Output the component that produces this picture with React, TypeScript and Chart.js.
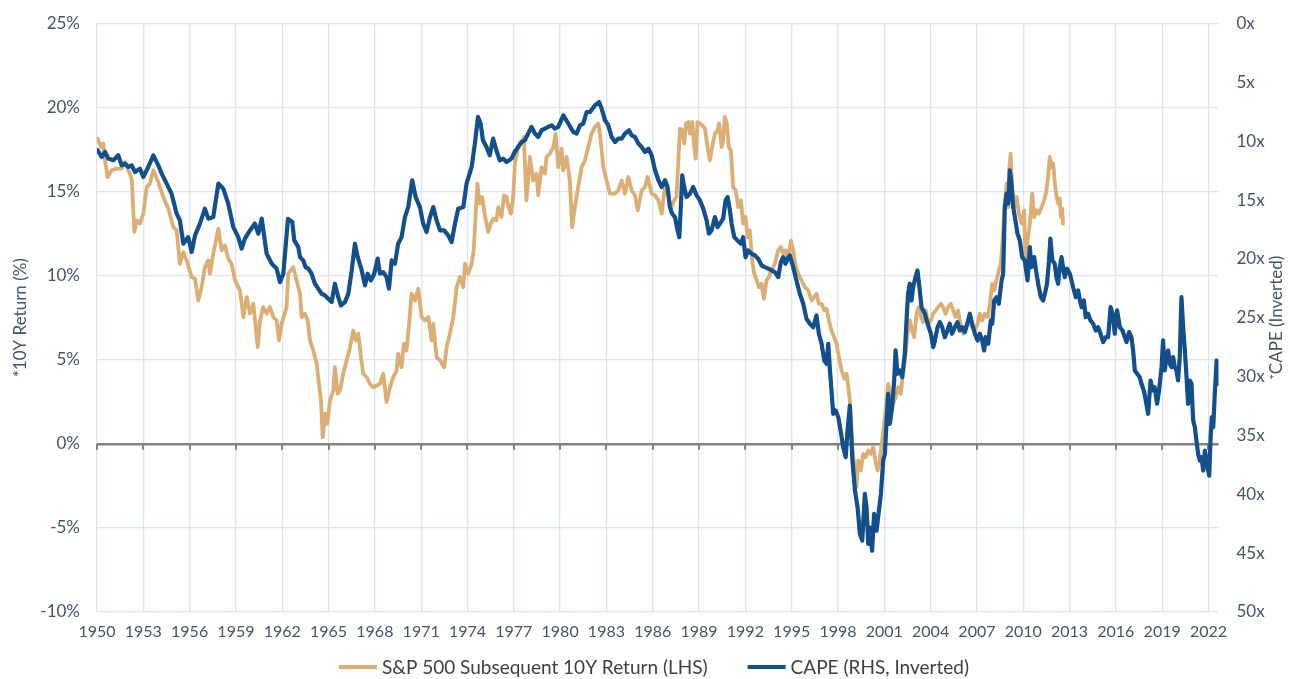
import React, { useEffect, useRef } from 'react';
import { Chart, registerables } from 'chart.js';

Chart.register(...registerables);

// ---------- Data ----------
const seriesLabels = ['S&P 500 Subsequent 10Y Return (LHS)', 'CAPE (RHS, Inverted)'];

const returnYears = [
  1950.04, 1950.26, 1950.41, 1950.52, 1950.69, 1950.95, 1951.27, 1951.6, 1951.81, 1952.03, 1952.25, 1952.42, 1952.57, 1952.78,
  1953.0, 1953.22, 1953.43, 1953.65, 1953.97, 1954.29, 1954.62, 1954.94, 1955.16, 1955.37, 1955.59, 1955.81,
  1956.13, 1956.35, 1956.56, 1956.78, 1956.99, 1957.21, 1957.32, 1957.53, 1957.75, 1957.86, 1958.07, 1958.29, 1958.5, 1958.72, 1958.94,
  1959.26, 1959.48, 1959.7, 1959.91, 1960.13, 1960.41, 1960.56, 1960.77, 1960.99, 1961.2, 1961.42, 1961.64, 1961.79, 1961.96,
  1962.28, 1962.39, 1962.71, 1962.93, 1963.15, 1963.26, 1963.47, 1963.65, 1963.8, 1964.01, 1964.23, 1964.33, 1964.51, 1964.62, 1964.77, 1964.92,
  1965.09, 1965.31, 1965.41, 1965.59, 1965.74, 1965.95, 1966.17, 1966.39, 1966.6, 1966.76, 1966.93, 1967.1, 1967.25, 1967.47, 1967.68, 1967.9,
  1968.12, 1968.33, 1968.54, 1968.76, 1968.98, 1969.19, 1969.41, 1969.51, 1969.73, 1969.88, 1970.05, 1970.2, 1970.38, 1970.6, 1970.81,
  1971.03, 1971.24, 1971.46, 1971.68, 1971.78, 1972.0, 1972.22, 1972.49, 1972.65, 1972.86, 1973.08, 1973.3, 1973.51, 1973.73, 1973.84,
  1974.05, 1974.27, 1974.4, 1974.55, 1974.64, 1974.79, 1974.95, 1975.11, 1975.34, 1975.51, 1975.67, 1975.88, 1975.99, 1976.2, 1976.37, 1976.53, 1976.63, 1976.81, 1976.96,
  1977.07, 1977.28, 1977.5, 1977.65, 1977.82, 1978.04, 1978.25, 1978.47, 1978.58, 1978.8, 1979.02, 1979.12, 1979.34, 1979.56, 1979.71, 1979.88,
  1980.1, 1980.2, 1980.42, 1980.63, 1980.78, 1980.96, 1981.17, 1981.39, 1981.61, 1981.82, 1982.04, 1982.26, 1982.47, 1982.58, 1982.8,
  1983.01, 1983.23, 1983.55, 1983.77, 1983.99, 1984.2, 1984.42, 1984.63, 1984.85, 1985.03, 1985.28, 1985.5, 1985.67, 1985.93,
  1986.15, 1986.37, 1986.58, 1986.8, 1986.96, 1987.11, 1987.22, 1987.39, 1987.54, 1987.65, 1987.76, 1987.91, 1988.04, 1988.15, 1988.3, 1988.41, 1988.56, 1988.69, 1988.78, 1988.9,
  1989.05, 1989.2, 1989.38, 1989.55, 1989.7, 1989.85, 1990.03, 1990.2, 1990.3, 1990.46, 1990.56, 1990.67, 1990.8, 1990.93, 1991.06, 1991.21, 1991.37, 1991.54, 1991.71, 1991.86,
  1992.01, 1992.14, 1992.29, 1992.44, 1992.57, 1992.73, 1992.88, 1993.05, 1993.2, 1993.37, 1993.52, 1993.7, 1993.91, 1994.13, 1994.3, 1994.45, 1994.6, 1994.77, 1994.95,
  1995.1, 1995.25, 1995.42, 1995.64, 1995.85, 1996.07, 1996.29, 1996.46, 1996.61, 1996.76, 1996.94, 1997.11, 1997.26, 1997.41, 1997.58, 1997.75, 1997.91,
  1998.06, 1998.24, 1998.41, 1998.56, 1998.67, 1998.77, 1998.95, 1999.1, 1999.2, 1999.31, 1999.48, 1999.63, 1999.79, 1999.96, 2000.13, 2000.28, 2000.43, 2000.56, 2000.71, 2000.86, 2000.99,
  2001.15, 2001.25, 2001.43, 2001.57, 2001.73, 2001.9, 2002.07, 2002.16, 2002.33, 2002.51, 2002.66, 2002.81, 2002.94, 2003.09, 2003.24, 2003.37, 2003.52, 2003.68, 2003.85,
  2004.02, 2004.17, 2004.33, 2004.49, 2004.66, 2004.81, 2004.97, 2005.14, 2005.31, 2005.46, 2005.62, 2005.78, 2005.96, 2006.11, 2006.22, 2006.39, 2006.54, 2006.69, 2006.87,
  2007.04, 2007.19, 2007.34, 2007.51, 2007.69, 2007.84, 2007.99, 2008.12, 2008.27, 2008.42, 2008.55, 2008.66, 2008.77, 2008.92, 2009.03, 2009.09, 2009.18, 2009.29, 2009.42, 2009.57, 2009.72, 2009.9,
  2010.06, 2010.15, 2010.28, 2010.43, 2010.58, 2010.71, 2010.86, 2011.01, 2011.19, 2011.36, 2011.51, 2011.61, 2011.72, 2011.83, 2011.94, 2012.05, 2012.16, 2012.26, 2012.37, 2012.44, 2012.52, 2012.58,
];

const returnValues = [
  18.15, 17.65, 17.86, 16.86, 15.87, 16.27, 16.37, 16.37, 16.76, 16.27, 15.77, 12.6, 13.29, 13.1,
  13.69, 15.27, 15.48, 16.27, 15.57, 14.68, 13.99, 12.89, 12.7, 10.71, 11.4, 10.91,
  9.92, 9.82, 8.53, 9.32, 10.51, 10.91, 10.12, 11.31, 12.3, 12.8, 11.51, 11.8, 11.01, 10.71, 9.72,
  9.13, 7.54, 8.73, 7.74, 8.33, 5.75, 7.34, 8.13, 7.74, 8.13, 7.54, 7.34, 6.15, 7.14,
  8.13, 10.12, 10.51, 9.72, 8.93, 7.54, 7.74, 7.34, 6.15, 5.55, 4.76, 3.96, 2.58, 0.39, 1.79, 1.19,
  2.58, 3.17, 4.56, 2.98, 3.17, 4.17, 4.96, 5.75, 6.74, 6.15, 6.55, 5.15, 4.17, 3.96, 3.57, 3.37,
  3.47, 3.57, 4.17, 2.48, 3.37, 3.96, 4.36, 5.36, 4.56, 5.95, 5.55, 6.94, 8.93, 8.53, 9.23,
  7.54, 7.34, 7.54, 6.15, 7.14, 5.15, 4.96, 4.56, 5.75, 6.55, 7.54, 9.32, 9.92, 9.32, 10.71,
  10.12, 10.71, 11.5, 14.0, 15.48, 14.29, 14.68, 13.69, 12.6, 13.1, 13.39, 13.29, 14.08, 13.49, 14.78, 14.68, 14.18, 13.69, 14.68,
  16.67, 17.65, 17.95, 18.25, 14.48, 17.06, 15.67, 16.07, 14.78, 16.46, 16.07, 17.06, 17.26, 17.65, 18.45, 16.46,
  17.56, 16.27, 17.06, 15.67, 12.89, 14.08, 15.27, 16.46, 16.86, 17.65, 18.45, 18.85, 19.05, 18.45, 16.46,
  15.67, 14.88, 14.88, 15.08, 15.67, 14.88, 15.87, 15.08, 14.78, 13.89, 15.08, 15.27, 15.87, 14.88,
  14.78, 14.48, 13.69, 15.4, 15.08, 14.18, 14.08, 14.48, 14.68, 16.67, 18.75, 18.65, 17.86, 19.05, 19.14, 18.45, 19.14, 17.65, 16.96, 19.14,
  19.05, 18.95, 18.75, 17.65, 16.86, 17.65, 18.45, 18.65, 19.05, 17.65, 18.05, 19.44, 19.05, 17.65, 17.46, 15.27, 15.08, 14.08, 14.48, 13.1,
  13.49, 12.3, 12.7, 10.91, 10.12, 9.72, 9.32, 9.52, 8.63, 9.72, 9.92, 10.32, 10.71, 11.51, 11.7, 11.31, 11.51, 10.91, 12.1,
  11.51, 10.61, 10.12, 9.72, 9.32, 9.13, 8.53, 8.73, 8.93, 8.33, 8.33, 7.94, 8.04, 7.34, 6.74, 6.35, 5.95,
  5.15, 4.36, 3.87, 4.17, 3.37, 2.58, -0.5, -1.59, -2.58, -0.99, -1.59, -0.6, -0.8, -0.4, -0.6, -0.2, -0.99, -1.59, -0.99, 0.2, 1.19,
  2.58, 3.57, 2.98, 2.38, 2.77, 3.37, 2.98, 3.77, 4.96, 6.55, 7.34, 6.74, 6.35, 7.74, 8.13, 7.54, 7.24, 7.94, 7.14,
  7.34, 7.74, 7.94, 8.13, 8.33, 8.13, 7.74, 8.13, 8.33, 7.94, 7.54, 7.94, 6.94, 6.55, 6.94, 7.04, 7.34, 6.94, 6.74,
  7.14, 7.74, 7.34, 7.74, 7.54, 8.33, 9.52, 9.13, 9.72, 10.32, 10.71, 12.1, 13.89, 15.48, 14.08, 16.27, 17.26, 15.27, 14.08, 14.68, 13.69, 13.1,
  13.89, 10.51, 12.1, 13.1, 14.88, 13.49, 13.89, 13.69, 14.08, 14.48, 15.08, 15.87, 17.06, 16.46, 16.67, 15.48, 14.68, 14.29, 14.58, 13.49, 13.99, 13.1,
];

const capeYears = [
  1950.04, 1950.3, 1950.52, 1950.73, 1951.06, 1951.38, 1951.6, 1951.81, 1952.03, 1952.25, 1952.46, 1952.78,
  1953.0, 1953.32, 1953.65, 1953.97, 1954.19, 1954.51, 1954.83, 1955.16, 1955.37, 1955.59, 1955.91,
  1956.13, 1956.35, 1956.67, 1956.99, 1957.21, 1957.53, 1957.86, 1958.18, 1958.5, 1958.83,
  1959.15, 1959.37, 1959.58, 1959.91, 1960.23, 1960.45, 1960.67, 1960.99, 1961.32, 1961.64, 1961.85,
  1962.07, 1962.37, 1962.65, 1962.78, 1963.04, 1963.15, 1963.36, 1963.51, 1963.69, 1963.9, 1964.12, 1964.33, 1964.55, 1964.77, 1964.98,
  1965.2, 1965.41, 1965.63, 1965.8, 1966.06, 1966.28, 1966.5, 1966.71, 1966.89, 1967.15, 1967.36, 1967.53, 1967.75, 1967.96,
  1968.18, 1968.33, 1968.54, 1968.76, 1968.91, 1969.09, 1969.3, 1969.51, 1969.73, 1969.95, 1970.16, 1970.42, 1970.64, 1970.92,
  1971.13, 1971.35, 1971.57, 1971.78, 1972.0, 1972.22, 1972.49, 1972.75, 1972.97, 1973.19, 1973.4, 1973.73, 1973.94,
  1974.27, 1974.48, 1974.68, 1974.85, 1975.0, 1975.23, 1975.44, 1975.66, 1975.87, 1976.09, 1976.31, 1976.53, 1976.85,
  1977.06, 1977.28, 1977.5, 1977.72, 1977.93, 1978.15, 1978.37, 1978.58, 1978.8, 1979.02, 1979.23, 1979.45, 1979.66, 1979.88,
  1980.21, 1980.53, 1980.85, 1981.07, 1981.29, 1981.5, 1981.72, 1981.94, 1982.26, 1982.52, 1982.69, 1982.91,
  1983.12, 1983.34, 1983.56, 1983.77, 1983.99, 1984.2, 1984.46, 1984.63, 1984.85, 1985.07, 1985.28, 1985.5, 1985.72, 1985.93,
  1986.15, 1986.37, 1986.58, 1986.8, 1986.96, 1987.11, 1987.26, 1987.44, 1987.61, 1987.72, 1987.82, 1987.91, 1988.04, 1988.19, 1988.41, 1988.62, 1988.84,
  1989.06, 1989.27, 1989.49, 1989.64, 1989.81, 1990.03, 1990.2, 1990.35, 1990.56, 1990.72, 1990.85, 1991.0, 1991.11, 1991.28, 1991.49, 1991.71, 1991.86,
  1992.01, 1992.18, 1992.4, 1992.62, 1992.83, 1993.05, 1993.26, 1993.48, 1993.7, 1993.91, 1994.13, 1994.3, 1994.45, 1994.6, 1994.73, 1994.88,
  1995.1, 1995.31, 1995.53, 1995.75, 1995.96, 1996.18, 1996.4, 1996.61, 1996.76, 1996.94, 1997.11, 1997.26, 1997.37, 1997.48, 1997.58, 1997.69, 1997.85,
  1998.02, 1998.17, 1998.34, 1998.5, 1998.62, 1998.77, 1998.93, 1999.1, 1999.27, 1999.42, 1999.57, 1999.74, 1999.85, 1999.96, 2000.06, 2000.21, 2000.34, 2000.5, 2000.65, 2000.78, 2000.93,
  2001.04, 2001.15, 2001.25, 2001.36, 2001.51, 2001.64, 2001.73, 2001.86, 2002.01, 2002.16, 2002.33, 2002.44, 2002.54, 2002.65, 2002.76, 2002.87, 2003.02, 2003.15, 2003.3, 2003.41, 2003.63, 2003.84,
  2004.02, 2004.17, 2004.28, 2004.45, 2004.6, 2004.75, 2004.92, 2005.09, 2005.24, 2005.39, 2005.57, 2005.74, 2005.89, 2006.04, 2006.22, 2006.43, 2006.54, 2006.69, 2006.87,
  2007.04, 2007.19, 2007.34, 2007.47, 2007.56, 2007.73, 2007.9, 2007.99, 2008.12, 2008.27, 2008.42, 2008.6, 2008.7, 2008.81, 2008.92, 2009.03, 2009.13, 2009.24, 2009.35, 2009.46, 2009.63, 2009.78, 2009.93,
  2010.1, 2010.28, 2010.43, 2010.53, 2010.71, 2010.86, 2011.01, 2011.14, 2011.29, 2011.45, 2011.54, 2011.67, 2011.76, 2011.89, 2012.04, 2012.15, 2012.26, 2012.37, 2012.48, 2012.58, 2012.69, 2012.84,
  2013.02, 2013.13, 2013.23, 2013.41, 2013.56, 2013.67, 2013.78, 2013.93, 2014.05, 2014.2, 2014.36, 2014.53, 2014.7, 2014.85, 2015.01, 2015.18, 2015.35, 2015.5, 2015.66, 2015.79, 2015.93,
  2016.08, 2016.26, 2016.43, 2016.58, 2016.69, 2016.86, 2017.01, 2017.12, 2017.23, 2017.38, 2017.55, 2017.66, 2017.81, 2017.94, 2018.09, 2018.25, 2018.38, 2018.52, 2018.67, 2018.8, 2018.96,
  2019.06, 2019.17, 2019.28, 2019.39, 2019.5, 2019.61, 2019.71, 2019.82, 2019.93,
  2020.03, 2020.14, 2020.25, 2020.36, 2020.47, 2020.58, 2020.68, 2020.79, 2020.9,
  2021.01, 2021.12, 2021.22, 2021.33, 2021.44, 2021.55, 2021.66, 2021.77, 2021.87, 2021.98,
  2022.05, 2022.14, 2022.22, 2022.31, 2022.42, 2022.53, 2022.63,
];

const capeValues = [
  10.77, 11.34, 10.92, 11.48, 11.62, 11.2, 12.05, 11.9, 12.19, 12.05, 12.62, 12.33,
  13.04, 12.19, 11.2, 12.05, 12.76, 13.6, 14.46, 16.16, 16.73, 18.71, 18.15,
  19.42, 18.0, 17.0, 15.73, 16.58, 16.45, 13.6, 14.03, 15.31, 17.3,
  18.15, 19.13, 18.28, 17.58, 17.0, 17.86, 16.58, 19.56, 20.41, 20.83, 21.97,
  21.26, 16.6, 16.87, 18.43, 19.0, 19.85, 20.13, 20.7, 20.83, 21.26, 22.11, 22.53, 22.96, 23.1, 23.38,
  23.67, 22.11, 23.25, 23.95, 23.67, 22.96, 20.98, 18.71, 19.85, 20.98, 22.25, 21.26, 21.83, 21.26,
  19.98, 21.26, 21.12, 21.55, 22.53, 20.13, 20.41, 18.71, 18.15, 16.45, 15.6, 13.32, 14.75, 15.6,
  17.0, 17.72, 16.45, 15.6, 16.73, 17.58, 17.58, 18.0, 18.57, 17.0, 15.73, 15.6, 13.6,
  12.19, 10.2, 7.94, 8.5, 9.92, 10.49, 11.2, 9.78, 10.77, 11.62, 11.48, 11.77, 11.48,
  10.92, 10.49, 10.07, 9.92, 9.35, 8.79, 9.35, 9.64, 9.07, 8.93, 8.79, 8.65, 8.93, 8.79,
  7.8, 8.5, 9.22, 9.35, 8.65, 8.5, 7.52, 7.52, 6.95, 6.67, 7.23, 8.22,
  8.65, 9.64, 10.07, 9.78, 9.78, 9.35, 9.07, 9.5, 9.64, 10.2, 10.49, 10.92, 10.63, 11.2,
  12.47, 13.32, 13.89, 13.32, 13.89, 15.6, 16.16, 16.45, 17.58, 18.15, 15.6, 12.9, 13.89, 14.75, 14.46, 13.89, 14.6,
  15.03, 15.73, 16.73, 17.86, 17.58, 16.45, 17.3, 17.0, 16.58, 15.03, 14.75, 15.88, 17.0, 18.15, 18.43, 18.71, 18.15,
  19.85, 19.28, 19.56, 19.7, 19.98, 20.55, 20.7, 20.83, 20.98, 21.12, 21.55, 20.27, 19.85, 20.41, 19.98, 19.7,
  20.7, 21.83, 22.96, 23.81, 25.09, 25.51, 25.8, 24.8, 26.36, 27.21, 28.63, 28.91, 27.21, 29.48, 31.18, 33.16, 32.88,
  33.45, 34.58, 36.0, 36.85, 34.58, 32.46, 37.0, 39.69, 41.1, 43.37, 43.94, 39.97, 41.1, 44.22, 42.81, 44.79, 41.67, 43.09, 41.39, 39.97, 37.13,
  36.56, 33.73, 31.46, 34.01, 32.6, 30.33, 27.78, 29.76, 29.48, 30.05, 28.06, 25.23, 22.96, 22.11, 23.53, 22.4, 21.55, 20.98, 22.68, 24.1, 24.66, 25.65,
  26.36, 27.5, 26.93, 25.8, 25.37, 25.8, 26.65, 26.08, 25.51, 26.36, 25.8, 25.37, 26.08, 25.8, 26.22, 25.23, 24.66, 25.51, 26.36,
  26.93, 26.36, 26.93, 27.78, 26.65, 27.21, 25.23, 25.51, 23.53, 23.25, 23.81, 21.83, 21.26, 15.6, 14.46, 15.31, 12.47, 13.6, 15.6, 16.45, 17.86, 18.43, 19.85,
  20.13, 21.83, 19.0, 20.7, 19.85, 21.26, 22.4, 23.25, 23.53, 22.68, 22.11, 20.13, 18.28, 20.13, 20.41, 21.55, 22.11, 20.7, 19.85, 20.7, 21.55, 20.83,
  21.26, 21.83, 22.4, 23.25, 22.68, 23.53, 24.1, 23.53, 24.95, 24.66, 25.23, 25.51, 26.08, 25.8, 26.36, 27.07, 26.65, 26.65, 24.1, 24.66, 26.36,
  24.38, 25.8, 26.08, 26.65, 27.07, 26.22, 26.65, 27.78, 29.48, 29.76, 30.05, 30.61, 31.18, 32.03, 33.16, 30.33, 31.18, 30.9, 32.31, 31.18, 29.2,
  26.93, 29.48, 28.35, 27.78, 28.91, 29.2, 28.35, 29.2, 29.48,
  30.33, 28.35, 23.25, 25.8, 27.78, 30.05, 32.31, 30.33, 30.61,
  33.73, 34.3, 35.43, 36.56, 37.13, 36.85, 37.98, 36.28, 37.13, 37.98,
  38.41, 35.15, 33.45, 34.3, 31.18, 28.63, 30.61,
];

const xTickYears = [1950, 1953, 1956, 1959, 1962, 1965, 1968, 1971, 1974, 1977, 1980, 1983, 1986, 1989, 1992, 1995, 1998, 2001, 2004, 2007, 2010, 2013, 2016, 2019, 2022];
const leftTicks = [-10, -5, 0, 5, 10, 15, 20, 25];
const rightTicks = [0, 5, 10, 15, 20, 25, 30, 35, 40, 45, 50];
const leftTitle = '*10Y Return (%)';
const rightTitle = '\u207ACAPE (Inverted)';

// ---------- Styles ----------
const W = 1290;
const H = 679;
const TAN = '#dcae74';
const BLUE = '#124f8b';
const LABEL = '#44546a';
const GRID = '#dce4ef';
const ZERO = '#828282';
const FONT = 'Lato, "Open Sans", sans-serif';

const zeroTicksPlugin = {
  id: 'zeroTicks',
  beforeDatasetsDraw(chart: any) {
    const { ctx, scales } = chart;
    const x = scales.x;
    const y0 = scales.y.getPixelForValue(0);
    ctx.save();
    ctx.strokeStyle = ZERO;
    ctx.lineWidth = 2;
    xTickYears.forEach((v) => {
      const px = Math.round(x.getPixelForValue(v));
      ctx.beginPath();
      ctx.moveTo(px, y0);
      ctx.lineTo(px, y0 + 6);
      ctx.stroke();
    });
    ctx.restore();
  },
};

const extrasPlugin = {
  id: 'extras',
  afterDraw(chart: any) {
    const { ctx, chartArea } = chart;
    ctx.save();
    // right axis title (reads bottom-to-top like the left one)
    ctx.font = `17px ${FONT}`;
    ctx.fillStyle = LABEL;
    ctx.textAlign = 'center';
    ctx.textBaseline = 'middle';
    ctx.translate(W - 13, (chartArea.top + chartArea.bottom) / 2);
    ctx.rotate(-Math.PI / 2);
    ctx.fillText(rightTitle, 0, 0);
    ctx.restore();

    // legend
    ctx.save();
    ctx.font = `19px ${FONT}`;
    ctx.textBaseline = 'middle';
    ctx.textAlign = 'left';
    const colors = [TAN, BLUE];
    const widths = seriesLabels.map((s) => ctx.measureText(s).width);
    const marker = 38;
    const gapText = 5;
    const gapItems = 40;
    const total = widths.reduce((a, w) => a + marker + gapText + w, 0) + gapItems;
    let xPos = 654 - total / 2;
    const yPos = 667;
    seriesLabels.forEach((s, i) => {
      ctx.fillStyle = colors[i];
      ctx.fillRect(xPos, yPos - 2, marker, 4);
      ctx.fillStyle = '#404040';
      ctx.fillText(s, xPos + marker + gapText, yPos + 1);
      xPos += marker + gapText + widths[i] + gapItems;
    });
    ctx.restore();
  },
};

export default function App() {
  const canvasRef = useRef<HTMLCanvasElement | null>(null);

  useEffect(() => {
    document.body.style.margin = '0';
    document.body.style.overflow = 'hidden';
    const canvas = canvasRef.current;
    if (!canvas) return;

    const returnData = returnYears.map((x, i) => ({ x, y: returnValues[i] }));
    const capeData = capeYears.map((x, i) => ({ x, y: capeValues[i] }));

    const chart = new Chart(canvas, {
      type: 'line',
      data: {
        datasets: [
          {
            label: seriesLabels[0],
            data: returnData,
            yAxisID: 'y',
            borderColor: TAN,
            backgroundColor: TAN,
            borderWidth: 3.8,
            pointRadius: 0,
            tension: 0,
            borderJoinStyle: 'round',
            borderCapStyle: 'round',
            order: 2,
          },
          {
            label: seriesLabels[1],
            data: capeData,
            yAxisID: 'y1',
            borderColor: BLUE,
            backgroundColor: BLUE,
            borderWidth: 4.2,
            pointRadius: 0,
            tension: 0,
            borderJoinStyle: 'round',
            borderCapStyle: 'round',
            order: 1,
          },
        ],
      },
      options: {
        responsive: false,
        animation: false,
        devicePixelRatio: 1,
        layout: { padding: { top: 23.5, left: 0, right: 0, bottom: 0 } },
        plugins: {
          legend: { display: false },
          tooltip: { enabled: false },
        },
        scales: {
          x: {
            type: 'linear',
            min: 1950,
            max: 2022.65,
            afterBuildTicks: (s: any) => {
              s.ticks = xTickYears.map((v) => ({ value: v }));
            },
            afterFit: (s: any) => {
              s.height = 67;
              s.paddingLeft = 0;
              s.paddingRight = 0;
            },
            ticks: {
              callback: (v: any) => String(v),
              font: { family: FONT, size: 16 },
              color: LABEL,
              padding: 10,
              maxRotation: 0,
              autoSkip: false,
            },
            grid: { color: GRID, lineWidth: 1.3, drawTicks: false },
            border: { display: false },
          },
          y: {
            position: 'left',
            min: -10,
            max: 25,
            afterBuildTicks: (s: any) => {
              s.ticks = leftTicks.map((v) => ({ value: v }));
            },
            afterFit: (s: any) => {
              s.width = 97;
              s.paddingTop = 0;
              s.paddingBottom = 0;
            },
            ticks: {
              callback: (v: any) => `${v}%`,
              font: { family: FONT, size: 17 },
              color: LABEL,
              padding: 17,
            },
            grid: {
              drawTicks: false,
              color: (c: any) => (c.tick && c.tick.value === 0 ? ZERO : GRID),
              lineWidth: (c: any) => (c.tick && c.tick.value === 0 ? 2.5 : 1.3),
            },
            border: { display: false },
            title: {
              display: true,
              text: leftTitle,
              font: { family: FONT, size: 17 },
              color: LABEL,
              padding: { top: 10, bottom: 0 },
            },
          },
          y1: {
            position: 'right',
            min: 0,
            max: 50,
            reverse: true,
            afterBuildTicks: (s: any) => {
              s.ticks = rightTicks.map((v) => ({ value: v }));
            },
            afterFit: (s: any) => {
              s.width = W - 1218.5;
              s.paddingTop = 0;
              s.paddingBottom = 0;
            },
            ticks: {
              callback: (v: any) => `${v}x`,
              font: { family: FONT, size: 17 },
              color: LABEL,
              padding: 18,
            },
            grid: { display: false, drawTicks: false },
            border: { display: false },
          },
        },
      },
      plugins: [zeroTicksPlugin, extrasPlugin],
    } as any);

    return () => chart.destroy();
  }, []);

  return (
    <div style={{ position: 'fixed', left: 0, top: 0, width: W, height: H, background: '#ffffff' }}>
      <canvas ref={canvasRef} width={W} height={H} style={{ width: W, height: H, display: 'block' }} />
    </div>
  );
}
